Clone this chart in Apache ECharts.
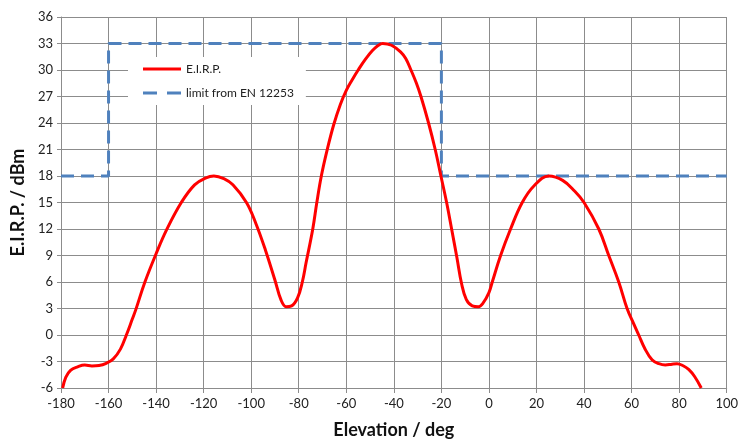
<!DOCTYPE html>
<html>
<head>
<meta charset="utf-8">
<script src="https://cdn.jsdelivr.net/npm/echarts@6/dist/echarts.min.js"></script>
<style>html,body{margin:0;padding:0;background:#fff}#c{width:741px;height:444px}</style>
</head>
<body>
<div id="c"></div>
<script>
// E.I.R.P. curve (elevation deg, dBm)
const eirpX = [-179.3,-178,-176,-173,-170,-167,-164,-161,-158,-155,-152.5,-150,-148.5,-144.7,-140,-135.6,-129.4,-123.8,-119,-115.7,-111.5,-107.7,-102,-98,-94,-90,-87.5,-85.3,-83,-80.5,-78.5,-76.9,-74.1,-72.4,-70.5,-68.1,-65.3,-62.5,-60,-57.5,-55,-52,-49,-46.5,-44.7,-41,-37,-35,-32.8,-30.5,-28.6,-25.4,-22.6,-20.2,-17.8,-15.7,-13.5,-11.5,-9.5,-7,-4.5,-2.5,0,1.4,4.9,9.1,14,19,25.2,31,36,40,46.2,50.4,54.6,58.1,61,63,65.5,68.6,71.5,74.2,77,79.1,81.5,84,86.5,89.3];
const eirpY = [-6,-4.8,-4.0,-3.6,-3.4,-3.5,-3.45,-3.2,-2.7,-1.6,0,1.8,2.9,6,9.2,11.9,15,17,17.8,18,17.7,17,15,12.6,9.6,6.2,4.0,3.2,3.3,4.2,6,8.2,12,15,18,20.9,23.8,26.1,27.7,28.9,30,31.2,32.2,32.8,33,32.8,32.0,31.3,30,28.5,27,24,21,18,15,12,8.8,5.8,4.0,3.3,3.2,3.6,4.8,6,9,12,15,16.9,18,17.5,16.3,15,12,9,6,3,1.2,0,-1.5,-2.8,-3.25,-3.4,-3.3,-3.25,-3.45,-3.9,-4.7,-6];
// Limit from EN 12253
const limitX = [-180,-160,-160,-20,-20,100];
const limitY = [18,18,33,33,18,18];
// Axes
const xMin = -180, xMax = 100, xStep = 20;
const yMin = -6, yMax = 36, yStep = 3;

const eirpData = eirpX.map((x,i)=>[x,eirpY[i]]);
const limitData = limitX.map((x,i)=>[x,limitY[i]]);
const FONT = 'Lato';
const gridColor = '#8c8c8c';

const chart = echarts.init(document.getElementById('c'), null, {renderer:'canvas'});
chart.setOption({
  animation:false,
  backgroundColor:'#fff',
  textStyle:{fontFamily:FONT},
  grid:{left:61,right:13,top:17,bottom:56,containLabel:false},
  legend:{
    left:128, top:57, orient:'vertical',
    backgroundColor:'#fff',
    padding:[6,12,6,15],
    itemWidth:38, itemHeight:14, itemGap:12,
    textStyle:{fontFamily:FONT,fontSize:12,color:'#222'},
    data:[
      {name:'E.I.R.P.',icon:'path://M0,0 L38,0 L38,3 L0,3 Z'},
      {name:'limit from EN 12253',icon:'path://M0,0 L14,0 L14,3 L0,3 Z M24,0 L38,0 L38,3 L24,3 Z'}
    ]
  },
  xAxis:{
    type:'value', min:xMin, max:xMax, interval:xStep,
    name:'Elevation / deg', nameLocation:'middle', nameGap:33,
    nameTextStyle:{fontFamily:FONT,fontSize:18,fontWeight:'bold',color:'#111'},
    axisLine:{show:true,onZero:false,lineStyle:{color:gridColor,width:1}},
    axisTick:{show:true,length:5,lineStyle:{color:gridColor}},
    axisLabel:{fontFamily:FONT,fontSize:13,color:'#222',margin:9},
    splitLine:{show:true,lineStyle:{color:gridColor,width:1}}
  },
  yAxis:{
    type:'value', min:yMin, max:yMax, interval:yStep,
    name:'E.I.R.P. / dBm', nameLocation:'middle', nameGap:33, nameRotate:90,
    nameTextStyle:{fontFamily:FONT,fontSize:18,fontWeight:'bold',color:'#111'},
    axisLine:{show:true,onZero:false,lineStyle:{color:gridColor,width:1}},
    axisTick:{show:true,length:4,lineStyle:{color:gridColor}},
    axisLabel:{fontFamily:FONT,fontSize:13,color:'#222',margin:8},
    splitLine:{show:true,lineStyle:{color:gridColor,width:1}}
  },
  series:[
    {
      name:'limit from EN 12253', type:'line', data:limitData,
      symbol:'none', z:2,
      lineStyle:{color:'#4F81BD',width:3,type:[13,7]},
      itemStyle:{color:'#4F81BD'}
    },
    {
      name:'E.I.R.P.', type:'line', data:eirpData,
      symbol:'none', smooth:0.4, z:3,
      lineStyle:{color:'#FF0000',width:3},
      itemStyle:{color:'#FF0000'}
    }
  ]
});
</script>
</body>
</html>
